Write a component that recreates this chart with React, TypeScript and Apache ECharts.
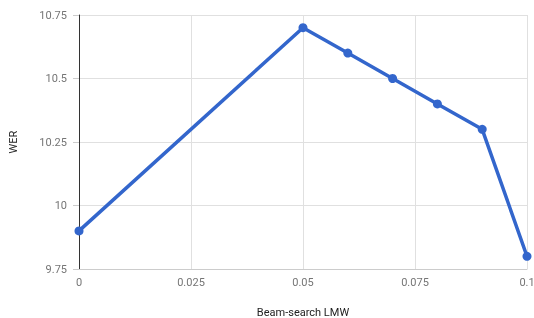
import React, { useEffect, useRef } from "react";
import * as echarts from "echarts";

const xValues = [0, 0.05, 0.06, 0.07, 0.08, 0.09, 0.1];
const werValues = [9.9, 10.7, 10.6, 10.5, 10.4, 10.3, 9.8];
const xTitle = "Beam-search LMW";
const yTitle = "WER";

export default function App() {
  const ref = useRef<HTMLDivElement>(null);
  useEffect(() => {
    if (!ref.current) return;
    const chart = echarts.init(ref.current, undefined, { renderer: "svg" });
    const fmt = (v: number) => String(parseFloat(v.toFixed(4)));
    chart.setOption({
      animation: false,
      textStyle: { fontFamily: "Roboto" },
      grid: {
        left: 79,
        right: 7,
        top: 15,
        bottom: 49,
        containLabel: false,
        outerBoundsMode: "none",
      },
      xAxis: {
        type: "value",
        min: 0,
        max: 0.1,
        interval: 0.025,
        name: xTitle,
        nameLocation: "middle",
        nameGap: 38,
        nameTextStyle: { color: "#222222", fontSize: 11, fontFamily: "Roboto" },
        axisLine: { show: true, lineStyle: { color: "#cccccc", width: 1 } },
        axisTick: { show: false },
        splitLine: { show: true, lineStyle: { color: "#e0e0e0", width: 1 } },
        axisLabel: {
          color: "#757575",
          fontSize: 11,
          fontFamily: "Roboto",
          margin: 8,
          formatter: fmt,
        },
      },
      yAxis: {
        type: "value",
        min: 9.75,
        max: 10.75,
        interval: 0.25,
        name: yTitle,
        nameLocation: "middle",
        nameGap: 60,
        nameRotate: 90,
        nameTextStyle: { color: "#222222", fontSize: 11, fontFamily: "Roboto" },
        axisLine: { show: true, lineStyle: { color: "#333333", width: 1 } },
        axisTick: { show: true, length: 6, lineStyle: { color: "#cccccc" } },
        splitLine: { show: true, lineStyle: { color: "#e0e0e0", width: 1 } },
        axisLabel: {
          color: "#757575",
          fontSize: 11,
          fontFamily: "Roboto",
          margin: 12,
          formatter: fmt,
        },
      },
      series: [
        {
          type: "line",
          data: xValues.map((x, i) => [x, werValues[i]]),
          symbol: "circle",
          symbolSize: 9,
          lineStyle: { color: "#3366cc", width: 3.5 },
          itemStyle: { color: "#3366cc" },
        },
      ],
    });
    return () => chart.dispose();
  }, []);
  return (
    <div
      ref={ref}
      style={{ position: "fixed", left: 0, top: 0, width: 534, height: 318 }}
    />
  );
}
